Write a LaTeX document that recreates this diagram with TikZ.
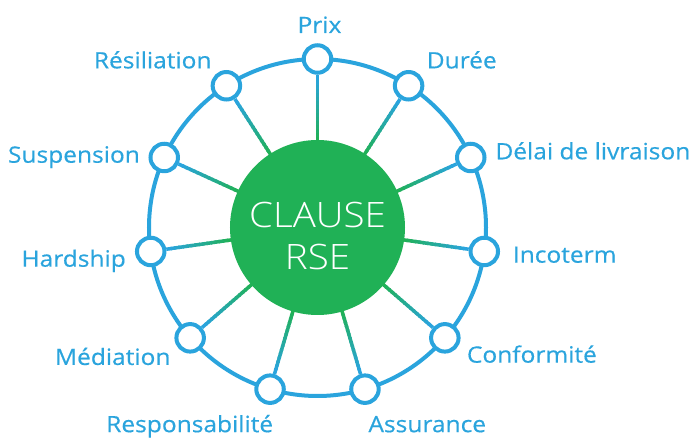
\documentclass[tikz,border=0pt]{standalone}
\usepackage{fontspec}
\setmainfont{Open Sans}[FakeStretch=1.09, FakeBold=0.4]
\newfontfamily\lightfont{Open Sans}[UprightFont=* Light, FakeStretch=1.1]
\usetikzlibrary{calc}
\definecolor{mBlue}{HTML}{2AA4DD}
\definecolor{mGreen}{HTML}{20B156}
\pgfdeclarelayer{background}
\pgfsetlayers{background,main}

\begin{document}
\begin{tikzpicture}[
    x=1pt, y=1pt,
    hub/.style={circle, fill=mGreen, minimum size=175pt, inner sep=0pt},
    dot/.style={circle, draw=mBlue, line width=4pt, fill=white, minimum size=27.5pt, inner sep=0pt},
    lbl/.style={text=mBlue, font=\fontsize{22.5}{26}\selectfont, inner sep=0pt},
    hubtxt/.style={text=white, font=\lightfont\fontsize{35}{41.7}\selectfont, align=center, inner sep=0pt},
    ring/.style={draw=mBlue, line width=4pt},
    spoke/.style={line width=3.5pt},
]
    \useasboundingbox (-317.5,-210.5) rectangle (372.5,227.5);

    % 中心圆
    \node[hub, label={[hubtxt, yshift=-8.5pt]center:CLAUSE\\RSE}] (hub) at (0,0) {};

    % 外圈 11 个小圆，间隔 360/11 度
    \node[dot] (prix)  at (90:168.5) {};
    \node[dot] (duree) at (57.27:168.5) {};
    \node[dot] (delai) at (24.55:168.5) {};
    \node[dot] (inco)  at (-8.18:168.5) {};
    \node[dot] (conf)  at (-40.91:168.5) {};
    \node[dot] (assur) at (-73.64:168.5) {};
    \node[dot] (resp)  at (-106.36:168.5) {};
    \node[dot] (medi)  at (-139.09:168.5) {};
    \node[dot] (hard)  at (-171.82:168.5) {};
    \node[dot] (susp)  at (155.45:168.5) {};
    \node[dot] (resil) at (122.73:168.5) {};

    % 标签：右半边左对齐，左半边右对齐
    \node[lbl, anchor=base] (lprix) at ($(prix)+(2,26)$) {Prix};
    \node[lbl, anchor=base west] (lduree) at ($(duree)+(18,17.4)$) {Durée};
    \node[lbl, anchor=base west] (ldelai) at ($(delai)+(24.5,-1.8)$) {Délai de livraison};
    \node[lbl, anchor=base west] (linco) at ($(inco)+(28.4,-11.2)$) {Incoterm};
    \node[lbl, anchor=base west] (lconf) at ($(conf)+(21.9,-24.8)$) {Conformité};
    \node[lbl, anchor=base west] (lassur) at ($(assur)+(3.3,-43)$) {Assurance};
    \node[lbl, anchor=base east] (lresp) at ($(resp)+(3.3,-43)$) {Responsabilité};
    \node[lbl, anchor=base east] (lmedi) at ($(medi)+(-19.5,-27.1)$) {Médiation};
    \node[lbl, anchor=base east] (lhard) at ($(hard)+(-24.7,-15.2)$) {Hardship};
    \node[lbl, anchor=base east] (lsusp) at ($(susp)+(-24.2,-5.2)$) {Suspension};
    \node[lbl, anchor=base east] (lresil) at ($(resil)+(-14.7,17.4)$) {Résiliation};

    % 外环与辐条放在底层；辐条由绿渐变到蓝
    \begin{pgfonlayer}{background}
        \draw[ring] (hub) circle[radius=168.5pt];
        \foreach \n in {prix, duree, delai, inco, conf, assur, resp, medi, hard, susp, resil}{
            \path (hub) -- (\n) coordinate[pos=0] (s0) coordinate[pos=1] (s1);
            \foreach \k in {0,...,15}{
                \pgfmathtruncatemacro\mix{100-\k*100/15}
                \draw[spoke, color=mGreen!\mix!mBlue]
                    ($(s0)!{(\k-0.4)/16}!(s1)$) -- ($(s0)!{(\k+1)/16}!(s1)$);
            }
        }
    \end{pgfonlayer}
\end{tikzpicture}
\end{document}
